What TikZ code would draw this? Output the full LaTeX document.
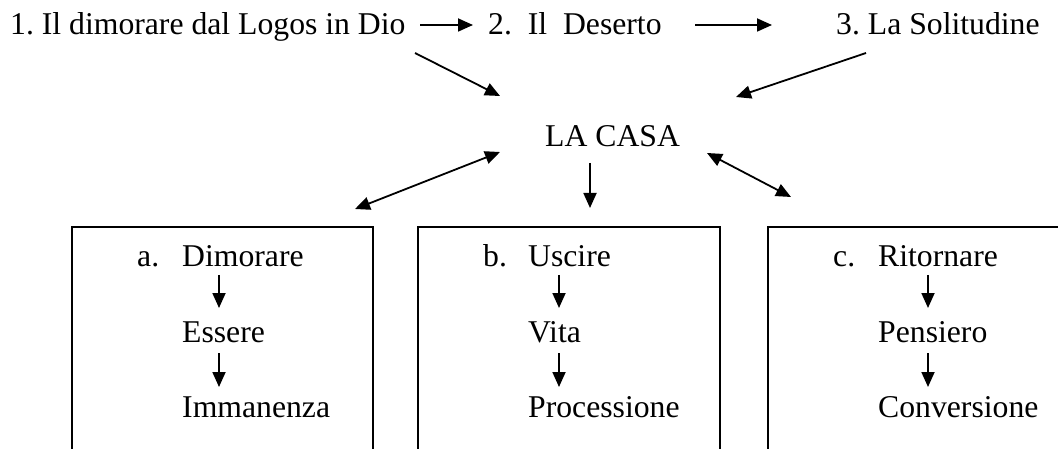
\documentclass[tikz,border=0pt]{standalone}
\usepackage{fontspec}
\setmainfont{Liberation Serif}
\usetikzlibrary{arrows.meta}
\frenchspacing
\begin{document}
\begin{tikzpicture}[x=1pt,y=-1pt,
  lbl/.style={anchor=base west,inner sep=0pt,font=\fontsize{31.7}{38}\selectfont},
  arr/.style={line width=1.8pt,-{Triangle[length=15pt,width=13pt]}},
  darr/.style={line width=1.8pt,{Triangle[length=15pt,width=13pt]}-{Triangle[length=15pt,width=13pt]}},
  boxline/.style={line width=1.8pt}]
\useasboundingbox (0,0) rectangle (1058,449);
\clip (0,0) rectangle (1058,449);

% top row
\node[lbl] (t1) at (10,35) {1. Il dimorare dal Logos in Dio};
\node[lbl] (t2) at (488,35) {2.\ \ Il\ \ Deserto};
\node[lbl] (t3) at (836,35) {3. La Solitudine};
\node[lbl] (casa) at (545,147) {LA CASA};

\coordinate (e12s) at (420,25);  \coordinate (e12e) at (473,25);
\coordinate (e23s) at (695,25);  \coordinate (e23e) at (772,25);
\coordinate (e1cs) at (415,53);  \coordinate (e1ce) at (500,96);
\coordinate (e3cs) at (866,53);  \coordinate (e3ce) at (736,97);
\coordinate (cas) at (500,152);  \coordinate (cae) at (355,209);
\coordinate (cbs) at (590,163);  \coordinate (cbe) at (590,208);
\coordinate (ccs) at (707,153);  \coordinate (cce) at (791,197);

\draw[arr] (e12s) -- (e12e);
\draw[arr] (e23s) -- (e23e);
\draw[arr] (e1cs) -- (e1ce);
\draw[arr] (e3cs) -- (e3ce);
\draw[darr] (cas) -- (cae);
\draw[arr] (cbs) -- (cbe);
\draw[darr] (ccs) -- (cce);

% boxes (open at the bottom)
\draw[boxline] (72,470) -- (72,227) -- (373,227) -- (373,470);
\draw[boxline] (418,470) -- (418,227) -- (720,227) -- (720,470);
\draw[boxline] (768,470) -- (768,227) -- (1080,227) -- (1080,470);

% box a
\node[lbl] (la) at (137,267) {a.};
\node[lbl] (a1) at (182,267) {Dimorare};
\node[lbl] (a2) at (182,342) {Essere};
\node[lbl] (a3) at (182,417) {Immanenza};
\coordinate (a1s) at (219,275); \coordinate (a1e) at (219,308);
\coordinate (a2s) at (219,353); \coordinate (a2e) at (219,387);
\draw[arr] (a1s) -- (a1e);
\draw[arr] (a2s) -- (a2e);

% box b
\node[lbl] (lb) at (483,267) {b.};
\node[lbl] (b1) at (528,267) {Uscire};
\node[lbl] (b2) at (528,342) {Vita};
\node[lbl] (b3) at (528,417) {Processione};
\coordinate (b1s) at (559,275); \coordinate (b1e) at (559,308);
\coordinate (b2s) at (559,353); \coordinate (b2e) at (559,387);
\draw[arr] (b1s) -- (b1e);
\draw[arr] (b2s) -- (b2e);

% box c
\node[lbl] (lc) at (833,267) {c.};
\node[lbl] (c1) at (878,267) {Ritornare};
\node[lbl] (c2) at (878,342) {Pensiero};
\node[lbl] (c3) at (878,417) {Conversione};
\coordinate (c1s) at (928,275); \coordinate (c1e) at (928,308);
\coordinate (c2s) at (928,353); \coordinate (c2e) at (928,387);
\draw[arr] (c1s) -- (c1e);
\draw[arr] (c2s) -- (c2e);
\end{tikzpicture}
\end{document}
